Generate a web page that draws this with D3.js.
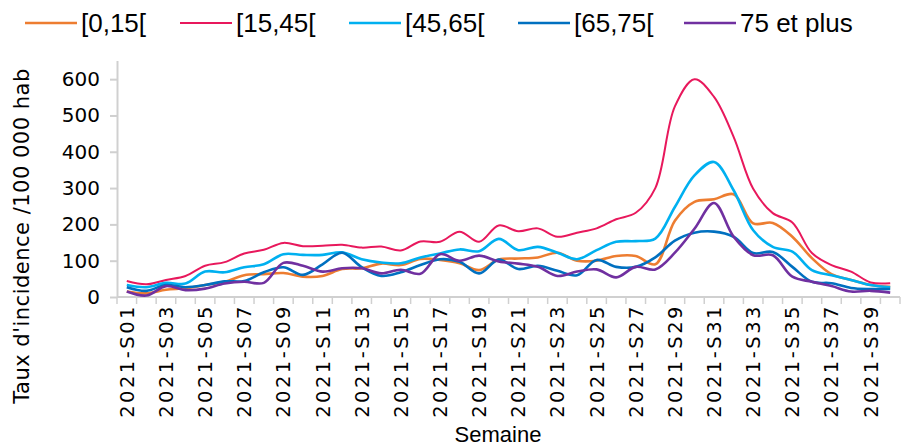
<!DOCTYPE html>
<html>
<head>
<meta charset="utf-8">
<script src="https://cdn.jsdelivr.net/npm/d3@7"></script>
<style>
  body { margin: 0; background: #fff; }
  svg { display: block; }
</style>
</head>
<body>
<script>
// weeks 2021-S01 .. 2021-S40
var weeks = d3.range(1, 41).map(function(i) { return "2021-S" + (i < 10 ? "0" + i : i); });
var weekLabels = weeks.filter(function(d, i) { return i % 2 === 0; });

var seriesNames = ["[0,15[", "[15,45[", "[45,65[", "[65,75[", "75 et plus"];
var seriesColors = ["#ED7D31", "#E8185C", "#00B0F0", "#0070C0", "#7030A0"];

var age0_15 = [15, 10, 20, 24, 33, 42, 60, 63, 66, 56, 58, 77, 79, 92, 88, 105, 102, 93, 74, 103,
  106, 109, 122, 100, 100, 113, 113, 90, 210, 262, 269, 283, 203, 204, 166, 107, 63, 47, 33, 28];
var age15_45 = [44, 35, 47, 58, 86, 96, 120, 130, 149, 140, 141, 144, 136, 139, 128, 153, 152, 180, 152, 197,
  181, 189, 166, 177, 189, 214, 232, 300, 525, 600, 551, 441, 298, 231, 205, 121, 88, 70, 40, 38];
var age45_65 = [33, 27, 39, 37, 70, 68, 82, 90, 118, 116, 116, 123, 104, 95, 93, 109, 120, 131, 126, 160,
  129, 138, 122, 104, 129, 152, 154, 161, 248, 335, 372, 294, 184, 138, 125, 74, 60, 47, 33, 27];
var age65_75 = [27, 17, 33, 27, 33, 43, 44, 68, 82, 61, 90, 122, 82, 58, 68, 88, 104, 97, 65, 103,
  77, 86, 72, 60, 102, 83, 83, 109, 155, 177, 180, 166, 121, 124, 83, 42, 38, 25, 22, 22];
var age75plus = [15, 4, 30, 19, 23, 37, 42, 39, 94, 86, 70, 79, 79, 65, 75, 64, 118, 100, 114, 98,
  92, 83, 58, 70, 76, 54, 83, 76, 122, 188, 259, 166, 115, 115, 56, 42, 30, 15, 17, 12];

var yTicks = [0, 100, 200, 300, 400, 500, 600];

var allSeries = [age0_15, age15_45, age45_65, age65_75, age75plus];

var width = 912, height = 447;
var margin = {top: 61, right: 12, bottom: 150, left: 117};
var plotW = 900 - margin.left, plotH = 297 - margin.top;

var svg = d3.select("body").append("svg")
  .attr("width", width)
  .attr("height", height);

var g = svg.append("g")
  .attr("transform", "translate(" + margin.left + "," + margin.top + ")");

var x = d3.scaleBand().domain(weeks).range([0, plotW]).padding(0);
var y = d3.scaleLinear().domain([0, 650]).range([plotH, 0]);

var axisColor = "#D0D0D0";
var narrow = "'Liberation Sans Narrow', 'Liberation Sans', Arial, sans-serif";
var wide = "'DejaVu Sans', Verdana, sans-serif";

// y axis
var yAxis = g.append("g").call(d3.axisLeft(y).tickValues(yTicks).tickSize(7).tickPadding(10));
yAxis.select(".domain").attr("stroke", axisColor).attr("stroke-width", 2).attr("d", "M0.5," + plotH + "V0");
yAxis.selectAll(".tick line").attr("stroke", axisColor).attr("stroke-width", 2);
yAxis.selectAll(".tick text")
  .style("font-family", wide).style("font-size", "20px").attr("fill", "#000");

// x axis: tick marks between categories
var xb = g.append("g").attr("transform", "translate(0," + plotH + ")");
xb.append("line").attr("x1", 0).attr("x2", plotW).attr("y1", 0).attr("y2", 0)
  .attr("stroke", axisColor).attr("stroke-width", 2);
xb.selectAll("line.tk").data(weeks.concat(["end"])).enter().append("line")
  .attr("class", "tk")
  .attr("x1", function(d) { return d === "end" ? plotW : x(d); })
  .attr("x2", function(d) { return d === "end" ? plotW : x(d); })
  .attr("y1", 0).attr("y2", 7)
  .attr("stroke", axisColor).attr("stroke-width", 1.5);

xb.selectAll("text.lbl").data(weekLabels).enter().append("text")
  .attr("class", "lbl")
  .attr("transform", function(d) { return "translate(" + (x(d) + x.bandwidth() / 2 + 7) + ",7) rotate(-90)"; })
  .attr("text-anchor", "end")
  .style("font-family", wide).style("font-size", "19.5px").style("letter-spacing", "2.5px")
  .text(function(d) { return d; });

// lines
var line = d3.line()
  .x(function(d, i) { return x(weeks[i]) + x.bandwidth() / 2; })
  .y(function(d) { return y(d); })
  .curve(d3.curveCatmullRom.alpha(0.5));

g.selectAll("path.series").data(allSeries).enter().append("path")
  .attr("class", "series")
  .attr("fill", "none")
  .attr("stroke", function(d, i) { return seriesColors[i]; })
  .attr("stroke-width", function(d, i) { return i === 1 ? 2 : 2.6; })
  .attr("stroke-linejoin", "round")
  .attr("d", line);

// axis titles
svg.append("text")
  .attr("transform", "translate(29,236) rotate(-90)")
  .attr("text-anchor", "middle")
  .style("font-family", wide).style("font-size", "21px").style("letter-spacing", "0.5px")
  .text("Taux d'incidence /100 000 hab");

svg.append("text")
  .attr("x", 498).attr("y", 442)
  .attr("text-anchor", "middle")
  .style("font-family", narrow).style("font-size", "22px")
  .text("Semaine");

// legend
var legX = [25, 180, 349, 518, 684];
var leg = svg.selectAll("g.leg").data(seriesNames).enter().append("g")
  .attr("class", "leg")
  .attr("transform", function(d, i) { return "translate(" + legX[i] + ",23)"; });
leg.append("line").attr("x1", 0).attr("x2", 52).attr("y1", 0).attr("y2", 0)
  .attr("stroke", function(d, i) { return seriesColors[i]; })
  .attr("stroke-width", function(d, i) { return i === 1 ? 2 : 2.6; });
leg.append("text").attr("x", 56).attr("y", 9)
  .style("font-family", narrow).style("font-size", "26px")
  .text(function(d) { return d; });
</script>
</body>
</html>
